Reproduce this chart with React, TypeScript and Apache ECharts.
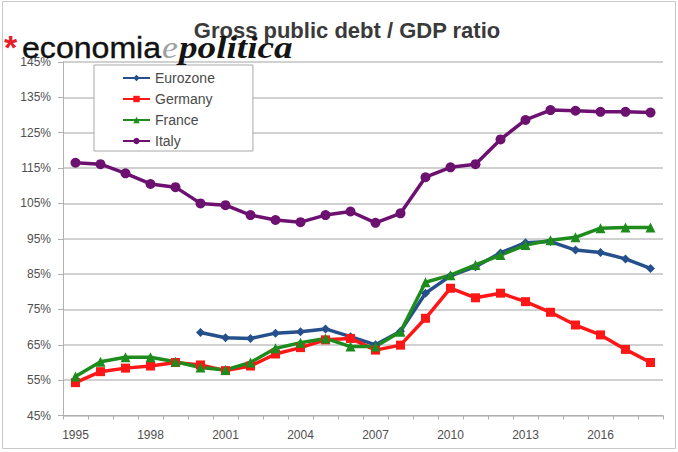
import React, { useEffect, useRef } from "react";
import * as echarts from "echarts";

const years = [
  "1995", "1996", "1997", "1998", "1999", "2000", "2001", "2002", "2003", "2004", "2005", "2006",
  "2007", "2008", "2009", "2010", "2011", "2012", "2013", "2014", "2015", "2016", "2017", "2018",
];

const eurozone: (number | null)[] = [
  null, null, null, null, null, 68.5, 67.0, 66.8, 68.3, 68.7, 69.5, 67.3,
  65.0, 68.8, 79.6, 84.5, 87.1, 91.0, 93.9, 94.2, 91.8, 91.1, 89.3, 86.6,
];

const germany = [
  54.3, 57.4, 58.4, 59.0, 60.0, 59.3, 57.7, 59.0, 62.4, 64.2, 66.4, 66.8,
  63.5, 64.9, 72.5, 81.0, 78.3, 79.6, 77.2, 74.2, 70.6, 67.8, 63.7, 60.0,
];

const france = [
  56.0, 60.2, 61.5, 61.5, 60.2, 58.6, 57.9, 60.0, 64.0, 65.6, 66.8, 64.5,
  64.5, 68.7, 82.7, 84.7, 87.6, 90.4, 93.2, 94.6, 95.4, 98.0, 98.2, 98.2,
];

const italy = [
  116.5, 116.1, 113.5, 110.5, 109.6, 105.0, 104.5, 101.7, 100.3, 99.7, 101.7, 102.7,
  99.5, 102.2, 112.4, 115.2, 116.1, 123.1, 128.6, 131.4, 131.2, 130.9, 130.9, 130.7,
];

const yTicks = [45, 55, 65, 75, 85, 95, 105, 115, 125, 135, 145];

const seriesNames = ["Eurozone", "Germany", "France", "Italy"];
const seriesColors = ["#26508c", "#ff1616", "#1d8c1d", "#6c116f"];
const seriesSymbols = ["diamond", "rect", "triangle", "circle"];
const seriesSizes = [9, 9, 10, 10];
const seriesData = [eurozone, germany, france, italy];

const titleText = "Gross public debt / GDP ratio";

export default function App() {
  const ref = useRef<HTMLDivElement>(null);

  useEffect(() => {
    if (!ref.current) return;
    const chart = echarts.init(ref.current, null, { renderer: "svg" });
    const axisGray = "#b0b0b0";
    chart.setOption({
      animation: false,
      backgroundColor: "#ffffff",
      textStyle: { fontFamily: "Liberation Sans" },
      grid: {
        left: 63,
        right: 15,
        top: 62,
        bottom: 36.5,
        containLabel: false,
        outerBoundsMode: "none",
      },
      legend: {
        orient: "vertical",
        left: 94,
        top: 65,
        itemWidth: 27,
        itemHeight: 8,
        itemGap: 7,
        padding: [6, 38, 3, 28],
        backgroundColor: "#ffffff",
        borderColor: "#a8a8a8",
        borderWidth: 1,
        borderRadius: 0,
        data: seriesNames,
        textStyle: { fontSize: 14, lineHeight: 14, color: "#4a4a4a", fontFamily: "Liberation Sans" },
      },
      xAxis: {
        type: "category",
        data: years,
        boundaryGap: true,
        axisLine: { show: true, lineStyle: { color: axisGray, width: 1 } },
        axisTick: { show: true, interval: 0, length: 4, lineStyle: { color: axisGray } },
        axisLabel: { interval: 2, fontSize: 12, color: "#505050", margin: 13 },
        splitLine: { show: false },
      },
      yAxis: {
        type: "value",
        min: 45,
        max: 145,
        axisLine: { show: true, lineStyle: { color: axisGray, width: 1 } },
        axisTick: { show: true, length: 5, customValues: yTicks, lineStyle: { color: axisGray } },
        axisLabel: {
          customValues: yTicks,
          formatter: "{value}%",
          fontSize: 12,
          color: "#505050",
          margin: 12,
        },
        splitLine: { show: true, lineStyle: { color: "#c2c2c2", width: 1.5 } },
      },
      series: seriesNames.map((name, i) => ({
        name,
        type: "line",
        data: seriesData[i].map((v) => (v === null ? "-" : v)),
        symbol: seriesSymbols[i],
        symbolSize: seriesSizes[i],
        showSymbol: true,
        color: seriesColors[i],
        lineStyle: { width: 3.5, color: seriesColors[i] },
        itemStyle: { color: seriesColors[i] },
        connectNulls: false,
      })),
      graphic: [
        {
          type: "rect",
          silent: true,
          z: -10,
          shape: { x: 2.5, y: 1.5, width: 673, height: 447 },
          style: { fill: "none", stroke: "#c8c8c8", lineWidth: 1 },
        },
        {
          type: "text",
          x: 347,
          y: 30.5,
          z: 10,
          style: {
            text: titleText,
            font: 'bold 22px "Liberation Sans"',
            fill: "#3a3a3a",
            align: "center",
            verticalAlign: "middle",
          },
        },
        {
          type: "text",
          x: 4,
          y: 47,
          z: 20,
          style: {
            text: "*",
            font: 'bold 34px "Liberation Sans"',
            fill: "#e5202a",
            align: "left",
            verticalAlign: "middle",
          },
        },
        {
          type: "text",
          x: 22,
          y: 47.6,
          z: 20,
          scaleX: 1.07,
          style: {
            text: "economia",
            font: '30px "Liberation Sans"',
            fill: "#111111",
            stroke: "#111111",
            lineWidth: 0.4,
            align: "left",
            verticalAlign: "middle",
          },
        },
        {
          type: "text",
          x: 162,
          y: 47.5,
          z: 20,
          scaleX: 1.15,
          style: {
            text: "e",
            font: 'italic 31px "Liberation Serif"',
            fill: "#a0a0a0",
            align: "left",
            verticalAlign: "middle",
          },
        },
        {
          type: "text",
          x: 179,
          y: 47.5,
          z: 20,
          scaleX: 1.2,
          style: {
            text: "politica",
            font: 'italic bold 31px "Liberation Serif"',
            fill: "#141414",
            align: "left",
            verticalAlign: "middle",
          },
        },
      ],
    });
    return () => chart.dispose();
  }, []);

  return (
    <div
      ref={ref}
      style={{ position: "absolute", left: 0, top: 0, width: 678, height: 452 }}
    />
  );
}
